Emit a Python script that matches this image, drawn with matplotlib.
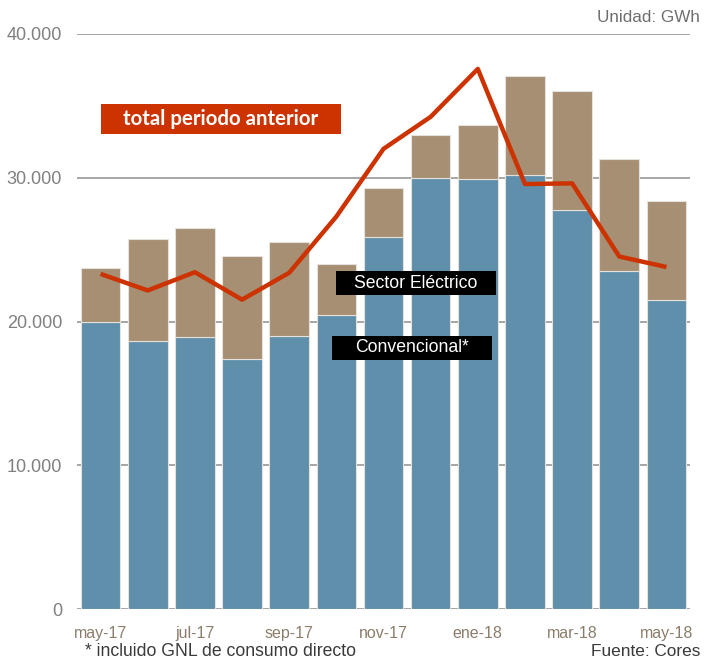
import matplotlib
matplotlib.use("Agg")
import matplotlib.pyplot as plt
from matplotlib.patches import Rectangle
from matplotlib.ticker import FuncFormatter

months = ["may-17", "jun-17", "jul-17", "ago-17", "sep-17", "oct-17", "nov-17",
          "dic-17", "ene-18", "feb-18", "mar-18", "abr-18", "may-18"]
convencional = [19950, 18650, 18910, 17390, 19000, 20470, 25910,
                30000, 29880, 30160, 27730, 23520, 21500]
total = [23750, 25770, 26510, 24540, 25510, 24030, 29310,
         32970, 33680, 37110, 36000, 31270, 28350]
sector_electrico = [t - c for t, c in zip(total, convencional)]
total_anterior = [23310, 22160, 23430, 21520, 23390, 27300, 32010,
                  34240, 37570, 29560, 29610, 24520, 23790]
yticks = [0, 10000, 20000, 30000, 40000]

plt.rcParams['font.family'] = ['Liberation Sans', 'DejaVu Sans']

W, H = 704, 661
fig = plt.figure(figsize=(W / 100, H / 100), dpi=100)
ax = fig.add_axes([77 / W, 52 / H, (690 - 77) / W, (609 - 34) / H])

x = list(range(len(months)))
blue = "#5F8FAA"
brown = "#A68F73"
ax.bar(x, convencional, width=0.84, color=blue, edgecolor="#E6E1DA", linewidth=0.8, zorder=2)
ax.bar(x, sector_electrico, bottom=convencional, width=0.84, color=brown,
       edgecolor="#E6E1DA", linewidth=0.8, zorder=2)
ax.plot(x, total_anterior, color="#CC3300", linewidth=3.2, zorder=4, solid_capstyle="butt")

ax.set_xlim(-0.5, len(months) - 0.5)
ax.set_ylim(0, 40000)
ax.set_yticks(yticks)
ax.yaxis.set_major_formatter(FuncFormatter(lambda v, p: "0" if v == 0 else f"{int(v):,}".replace(",", ".")))
ax.set_xticks(x[::2])
ax.set_xticklabels(months[::2])
ax.tick_params(axis="both", length=0)
ax.tick_params(axis="y", pad=10.8, labelsize=13, labelcolor="#808080")
ax.tick_params(axis="x", pad=12, labelsize=11.5, labelcolor="#8C7D6B")
ax.grid(axis="y", color="#A6A6A6", linewidth=1.4, zorder=1)
ax.set_axisbelow(True)
for s in ax.spines.values():
    s.set_visible(False)

def box(x0, y0, x1, y1, color, text, **kw):
    fig.patches.append(Rectangle((x0 / W, 1 - y1 / H), (x1 - x0) / W, (y1 - y0) / H,
                                 transform=fig.transFigure, facecolor=color,
                                 edgecolor="none", zorder=5))
    fig.text((x0 + x1) / 2 / W, 1 - (y0 + y1) / 2 / H, text, ha="center", va="center",
             color="white", zorder=6, **kw)

box(101, 104, 341, 134, "#CC3300", "total periodo anterior", fontsize=14.7,
    fontweight="bold", family=["Lato", "DejaVu Sans"])
box(336, 271, 496, 295, "black", "Sector Eléctrico", fontsize=12.7)
box(332, 336, 492, 360, "black", "Convencional*", fontsize=12.7)

fig.text(700 / W, 1 - 18 / H, "Unidad: GWh", ha="right", va="center", fontsize=12.3, color="#6E6E6E")
fig.text(85 / W, 1 - 651 / H, "* incluido GNL de consumo directo", ha="left", va="center",
         fontsize=12.7, color="#3A3A3A")
fig.text(700 / W, 1 - 651 / H, "Fuente: Cores", ha="right", va="center", fontsize=12.4, color="#3A3A3A")

fig.savefig("out.png", dpi=100)
